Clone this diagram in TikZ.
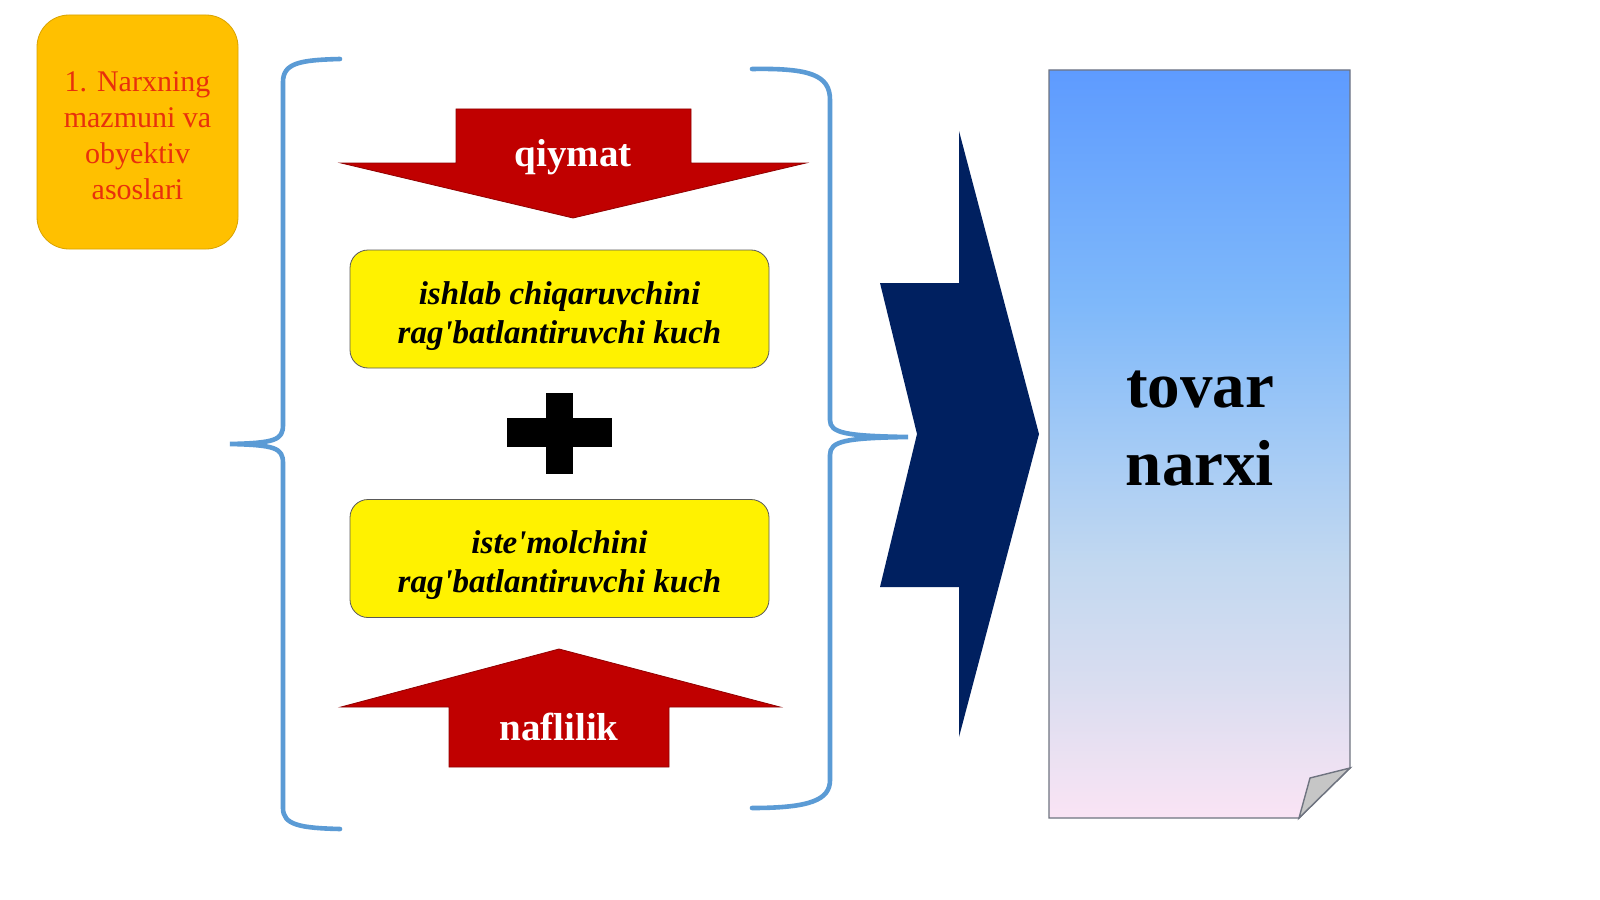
\documentclass[tikz,border=0pt]{standalone}
\usepackage{fontspec}
\setmainfont{Liberation Serif}
\definecolor{bracecol}{HTML}{5B9BD5}
\definecolor{arrowred}{HTML}{C00000}
\definecolor{navyarrow}{HTML}{002060}
\definecolor{topicfill}{HTML}{FFC000}
\definecolor{topictext}{HTML}{E8300C}
\definecolor{pagetop}{HTML}{5E9BFF}
\definecolor{pageupper}{HTML}{7EB8FA}
\definecolor{pagemid}{HTML}{A5CBF5}
\definecolor{pagelow}{HTML}{C2D8F0}
\definecolor{pagefaint}{HTML}{D9DDF0}
\definecolor{pagebot}{HTML}{FAE4F4}
\definecolor{pagerule}{HTML}{6F7480}
\pgfdeclareverticalshading{sheet}{100bp}{color(0bp)=(pagebot); color(25bp)=(pagebot);
  color(34bp)=(pagefaint); color(42bp)=(pagelow); color(49.5bp)=(pagemid);
  color(59.5bp)=(pageupper); color(75bp)=(pagetop); color(100bp)=(pagetop)}

\begin{document}
\begin{tikzpicture}[x=0.5pt,y=-0.5pt,
  brace/.style={draw=bracecol,line width=2.3pt,line cap=round},
  topicbox/.style={draw=topicfill!85!black,fill=topicfill,rounded corners=16pt,minimum width=100.5pt,minimum height=117pt},
  topiclabel/.style={align=center,text=topictext,font=\fontsize{15}{18}\selectfont},
  forcebox/.style={draw=black!65,fill=yellow,rounded corners=9pt,minimum width=209.5pt,minimum height=59pt},
  forcelabel/.style={align=center,font=\fontsize{16.5}{19.5}\selectfont\bfseries\itshape},
  redarrow/.style={fill=arrowred,draw=arrowred!75!black,line width=0.4pt},
  arrowlabel/.style={text=white,font=\fontsize{19.5}{23}\selectfont\bfseries},
  pricelabel/.style={align=center,font=\fontsize{32.5}{39}\selectfont\bfseries}]
\useasboundingbox (0,0) rectangle (1600,899);
\fill[white] (0,0) rectangle (1600,899);

% topic
\node[topicbox] (topic) at (137.5,132) {};
\node[topiclabel] (topictext) at ([yshift=-1.8pt]topic.center) {1. Narxning\\mazmuni va\\obyektiv\\asoslari};

% left and right braces
\draw[brace] (340,59) .. controls (300,60) and (283,63) .. (283,82) -- (283,425)
  .. controls (283,440) and (275,443) .. (230,444) .. controls (275,445) and (283,448) .. (283,463)
  -- (283,808) .. controls (283,825) and (300,828) .. (340,829);
\draw[brace] (752,69) .. controls (810,68) and (830,75) .. (830,100) -- (830,420)
  .. controls (830,433) and (845,436) .. (908,437) .. controls (845,438) and (830,441) .. (830,455)
  -- (830,780) .. controls (830,800) and (810,808) .. (752,808);

% value arrow (down)
\filldraw[redarrow] (456,109) -- (691,109) -- (691,163) -- (806,163) -- (573,218) -- (341,163) -- (456,163) -- cycle;
\node[arrowlabel] (value) at (573,157) {qiymat};

% forces
\node[forcebox] (producer) at (559.5,309) {};
\node[forcelabel] (producertext) at ([yshift=-3.5pt]producer.center) {ishlab chiqaruvchini\\rag\textquotesingle batlantiruvchi kuch};
\fill (546,393) rectangle (573,474);
\fill (507,418) rectangle (612,447);
\node[forcebox] (consumer) at (559.5,558.5) {};
\node[forcelabel] (consumertext) at ([yshift=-3.5pt]consumer.center) {iste\textquotesingle molchini\\rag\textquotesingle batlantiruvchi kuch};

% utility arrow (up)
\filldraw[redarrow] (559,649) -- (780,707) -- (669,707) -- (669,767) -- (449,767) -- (449,707) -- (341,707) -- cycle;
\node[arrowlabel] (utility) at (559,727) {naflilik};

% result arrow
\fill[navyarrow] (959,131) -- (1039,434) -- (959,737) -- (959,587) -- (880,587) -- (917,434) -- (880,283) -- (959,283) -- cycle;

% price sheet
\shade[shading=sheet] (1049,70) -- (1350,70) -- (1350,768) -- (1299,818) -- (1049,818) -- cycle;
\draw[draw=pagerule,line width=0.7pt] (1049,70) -- (1350,70) -- (1350,768) -- (1299,818) -- (1049,818) -- cycle;
\filldraw[fill=gray!45,draw=pagerule,line width=0.7pt] (1350,768) -- (1310,778) -- (1299,818) -- cycle;
\node[pricelabel] (price) at (1200,429) {tovar\\narxi};
\end{tikzpicture}
\end{document}
